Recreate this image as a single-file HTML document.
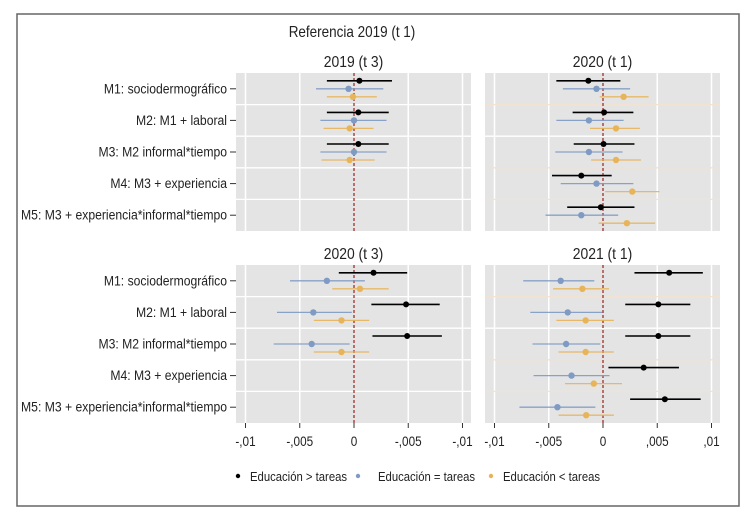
<!DOCTYPE html>
<html><head><meta charset="utf-8"><style>
body{margin:0;background:#fff;}
svg text{font-family:"Liberation Sans",sans-serif;fill:#222;}
</style></head><body>
<svg id="chart" width="745" height="522" viewBox="0 0 745 522" xmlns="http://www.w3.org/2000/svg">
<rect x="17" y="14" width="722" height="492" fill="#fff" stroke="#666" stroke-width="1.5"/>
<text transform="translate(352,37) scale(0.87,1)" font-size="15.5" text-anchor="middle">Referencia 2019 (t 1)</text>
<g id="plots"></g>
<g>
<circle cx="238" cy="476" r="2.2" fill="#000"/>
<text transform="translate(250,481) scale(0.87,1)" font-size="13">Educación &gt; tareas</text>
<circle cx="358" cy="476" r="2.2" fill="#7f9bc4"/>
<text transform="translate(378,481) scale(0.87,1)" font-size="13">Educación = tareas</text>
<circle cx="491" cy="476" r="2.2" fill="#e8b45a"/>
<text transform="translate(503,481) scale(0.87,1)" font-size="13">Educación &lt; tareas</text>
</g>
</svg>
<script>
const models = ["M1: sociodermográfico","M2: M1 + laboral","M3: M2 informal*tiempo","M4: M3 + experiencia","M5: M3 + experiencia*informal*tiempo"];
const panelTitles = ["2019 (t 3)","2020 (t 1)","2020 (t 3)","2021 (t 1)"];
const tickValues = [-0.01,-0.005,0,0.005,0.01];
const tickLabelsLeft = ["-,01","-,005","0","-,005","-,01"];
const tickLabelsRight = ["-,01","-,005","0",",005",",01"];
// values in units of 0.001 ; each row: [estimate, low, high]; null = not estimated
const p1Mayor = [[0.5,-2.5,3.5],[0.4,-2.5,3.2],[0.4,-2.5,3.2],null,null];
const p1Igual = [[-0.5,-3.5,2.7],[0,-3.1,3.0],[0,-3.1,3.0],null,null];
const p1Menor = [[-0.1,-2.5,2.1],[-0.4,-2.8,1.8],[-0.4,-3.0,1.9],null,null];
const p2Mayor = [[-1.35,-4.3,1.6],[0.1,-2.8,2.8],[0.05,-2.7,2.9],[-2.0,-4.7,0.8],[-0.2,-3.3,2.9]];
const p2Igual = [[-0.6,-3.7,2.5],[-1.3,-4.3,1.9],[-1.3,-4.4,1.8],[-0.6,-3.9,2.8],[-2.0,-5.3,1.4]];
const p2Menor = [[1.9,-0.3,4.2],[1.2,-1.2,3.4],[1.2,-1.1,3.5],[2.7,0.2,5.2],[2.2,-0.4,4.8]];
const p3Mayor = [[1.8,-1.4,4.9],[4.8,1.6,7.9],[4.9,1.7,8.1],null,null];
const p3Igual = [[-2.5,-5.9,1.0],[-3.75,-7.1,-0.2],[-3.9,-7.4,-0.4],null,null];
const p3Menor = [[0.55,-2.0,3.2],[-1.15,-3.7,1.4],[-1.15,-3.7,1.4],null,null];
const p4Mayor = [[6.1,2.9,9.2],[5.1,2.05,8.05],[5.1,2.05,8.05],[3.75,0.5,7.0],[5.7,2.5,9.0]];
const p4Igual = [[-3.9,-7.35,-0.8],[-3.25,-6.7,-0.05],[-3.4,-6.5,-0.25],[-2.9,-6.4,0.6],[-4.2,-7.7,-0.7]];
const p4Menor = [[-1.9,-4.6,0.55],[-1.6,-4.3,1.0],[-1.6,-4.1,1.0],[-0.85,-3.5,1.75],[-1.55,-4.1,1.0]];

const NS="http://www.w3.org/2000/svg";
const root=document.getElementById('plots');
function mk(tag,attrs,parent){const e=document.createElementNS(NS,tag);for(const k in attrs)e.setAttribute(k,attrs[k]);parent.appendChild(e);return e;}
function txt(x,y,size,anchor,s,parent){const t=mk('text',{transform:'translate('+x+','+y+') scale(0.87,1)','font-size':size,'text-anchor':anchor},parent);t.textContent=s;return t;}
const panels=[
 {x0:236,x1:471,y0:73,y1:231,zero:354,title:panelTitles[0],data:[p1Mayor,p1Igual,p1Menor],labels:true,ticks:false},
 {x0:485,x1:720,y0:73,y1:231,zero:603,title:panelTitles[1],data:[p2Mayor,p2Igual,p2Menor],labels:false,ticks:false},
 {x0:236,x1:471,y0:265,y1:423,zero:354,title:panelTitles[2],data:[p3Mayor,p3Igual,p3Menor],labels:true,ticks:true,tl:tickLabelsLeft},
 {x0:485,x1:720,y0:265,y1:423,zero:603,title:panelTitles[3],data:[p4Mayor,p4Igual,p4Menor],labels:false,ticks:true,tl:tickLabelsRight}
];
const colors=["#000","#7f9bc4","#e8b45a"];
const names=["mayor","igual","menor"];
const pxPer=10.85; // px per 0.001
panels.forEach((p,pi)=>{
  const g=mk('g',{},root);
  
  
  const xs=v=>p.zero+v*pxPer;
  const rowH=(p.y1-p.y0)/5;
  const yr=i=>p.y0+rowH*(i+0.5);
  const bg=mk('rect',{x:p.x0,y:p.y0,width:p.x1-p.x0,height:p.y1-p.y0,fill:'#e4e4e4'},g);
  
  
  tickValues.forEach(t=>{if(t!==0){const l=mk('line',{x1:xs(t*1000),x2:xs(t*1000),y1:p.y0,y2:p.y1,stroke:'#fff','stroke-width':1.5},g);
    
    }});
  for(let i=1;i<5;i++){const sc=(pi===1||pi===3)&&i!==2?'#f1e2d2':'#fff';
    const l=mk('line',{x1:p.x0,x2:p.x1,y1:p.y0+rowH*i,y2:p.y0+rowH*i,stroke:sc,'stroke-width':1.3},g);
    
    }
  const z=mk('line',{x1:p.zero,x2:p.zero,y1:p.y0,y2:p.y1,stroke:'#a0302a','stroke-width':1.3,'stroke-dasharray':'3,2'},g);
  
  
  const tt=txt((p.x0+p.x1)/2,p.y0-6,16,'middle',p.title,g);
  
  
  if(p.labels){models.forEach((m,i)=>{
    const t=txt(p.x0-9,yr(i)+4.5,14,'end',m,g);
    
    
    const tk=mk('line',{x1:p.x0-6,x2:p.x0,y1:yr(i),y2:yr(i),stroke:'#333','stroke-width':1},g);
    
    });}
  if(p.ticks){tickValues.forEach((t,i)=>{
    const tk=mk('line',{x1:xs(t*1000),x2:xs(t*1000),y1:p.y1,y2:p.y1+5,stroke:'#333','stroke-width':1},g);
    
    
    const lb=txt(xs(t*1000),p.y1+23,13.5,'middle',p.tl[i],g);
    
    });}
  p.data.forEach((series,si)=>{
    const off=(si-1)*8;
    series.forEach((d,i)=>{
      if(!d)return;
      const y=yr(i)+off;
      const ci=mk('line',{x1:xs(d[1]),x2:xs(d[2]),y1:y,y2:y,stroke:colors[si],'stroke-width':si===0?1.6:1.3,opacity:si===0?1:0.9},g);
      
      
      const pt=mk('circle',{cx:xs(d[0]),cy:y,r:si===0?3:3.2,fill:colors[si]},g);
      
      
    });
  });
});
</script>
</body></html>
